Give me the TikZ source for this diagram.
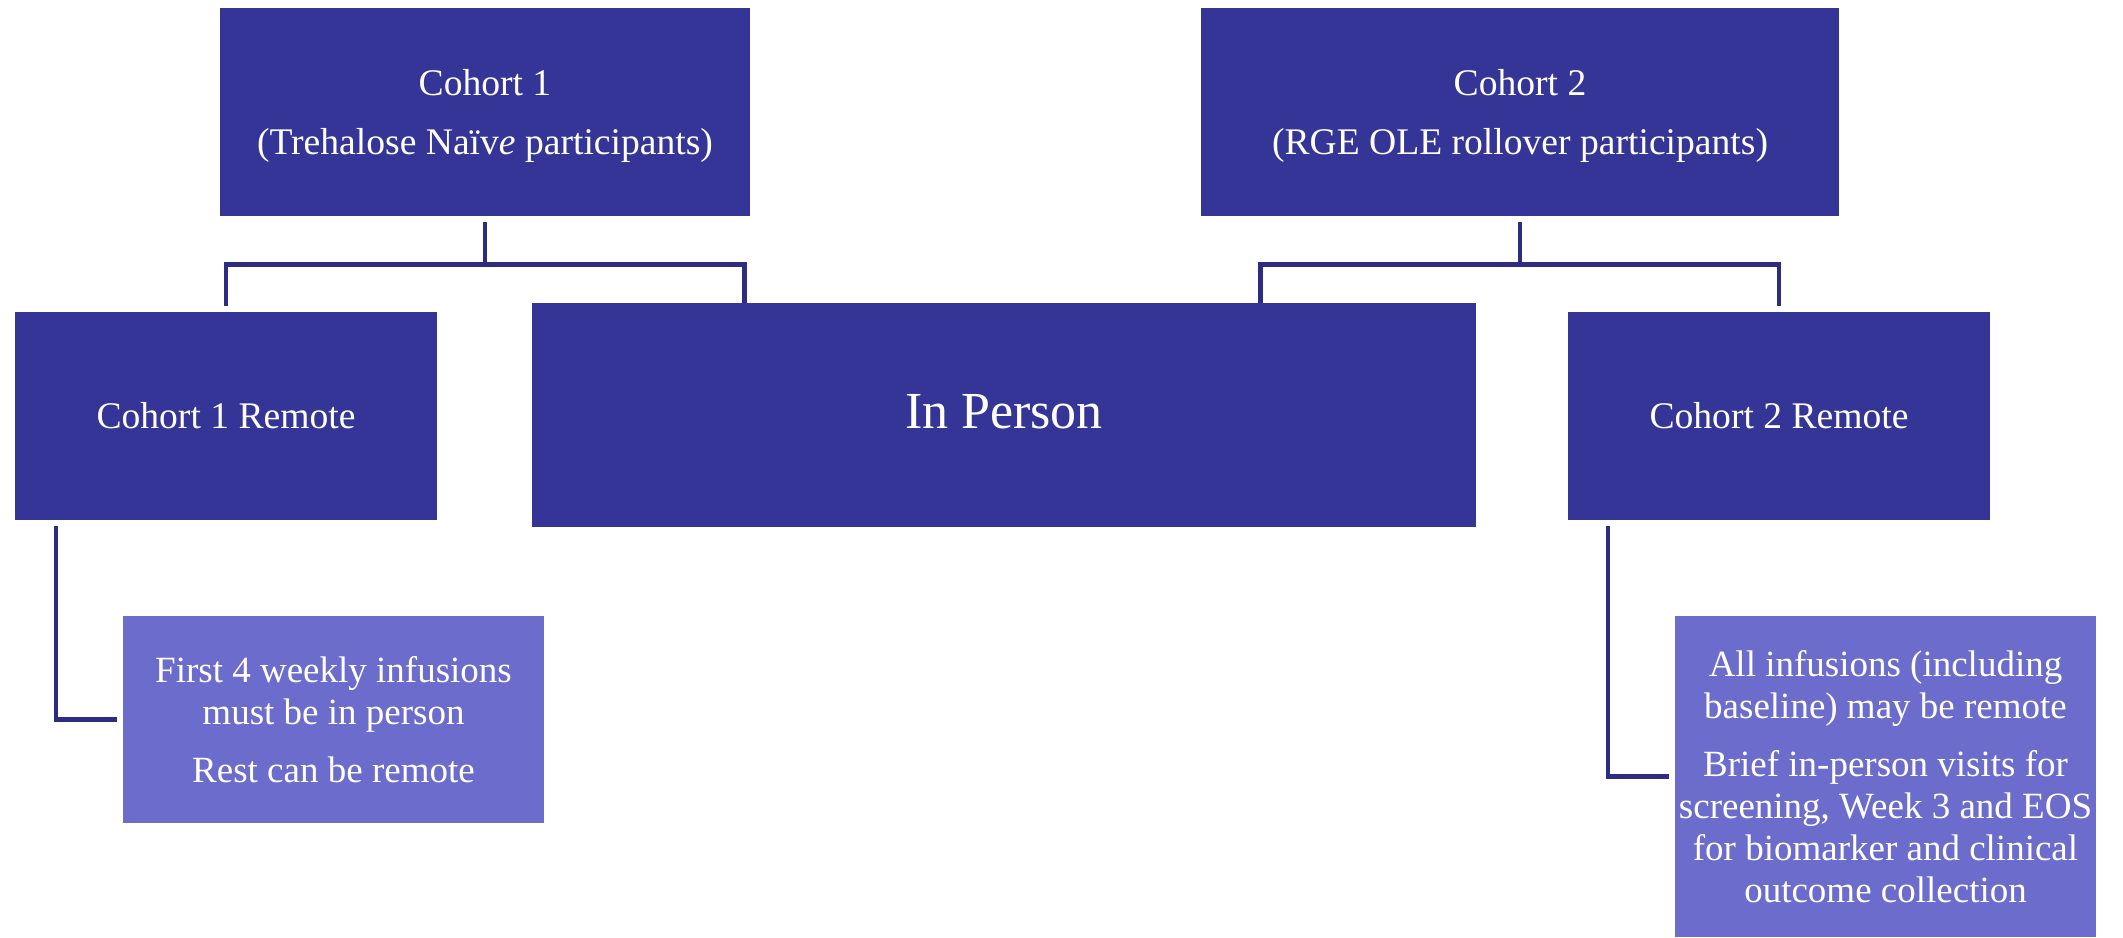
\documentclass[tikz,border=0pt]{standalone}
\usepackage{fontspec}
\setmainfont{Liberation Serif}
\definecolor{boxdark}{HTML}{353598}
\definecolor{boxlight}{HTML}{6C6CCC}
\definecolor{connc}{HTML}{2C2C82}
\newcommand\fntTop{\fontsize{18.8}{20.8}\selectfont}
\newcommand\fntBig{\fontsize{26}{30}\selectfont}
\newcommand\fntNote{\fontsize{18.5}{21}\selectfont}
\begin{document}
\begin{tikzpicture}[x=0.5pt,y=-0.5pt,
  dark/.style={fill=boxdark, text=white, inner sep=0pt, align=center},
  light/.style={fill=boxlight, text=white, inner sep=0pt, align=center},
  conn/.style={draw=connc, line width=2.2pt}]
\useasboundingbox (0,0) rectangle (2123,937);
% top boxes
\node[dark, minimum width=265pt, minimum height=104pt, font=\fntTop] (c1) at (485,112)
  {\rule{0pt}{17pt}Cohort 1\\[8.8pt](Trehalose Naïv\textit{e} participants)};
\node[dark, minimum width=319pt, minimum height=104pt, font=\fntTop] (c2) at (1520,112)
  {\rule{0pt}{17pt}Cohort 2\\[8.8pt](RGE OLE rollover participants)};
% middle row
\node[dark, minimum width=211pt, minimum height=104pt, font=\fntTop] (c1r) at (226,416) {Cohort 1 Remote};
\node[dark, minimum width=472pt, minimum height=112pt, font=\fntBig] (ip) at (1004,415) {\rule[-4pt]{0pt}{0pt}In Person};
\node[dark, minimum width=211pt, minimum height=104pt, font=\fntTop] (c2r) at (1779,416) {Cohort 2 Remote};
% notes
\node[light, minimum width=210.5pt, minimum height=103.5pt, font=\fntNote] (n1) at (333.5,719.5)
  {First 4 weekly infusions\\must be in person\\[8pt]Rest can be remote};
\node[light, minimum width=210.5pt, minimum height=160.5pt, font=\fntNote] (n2) at (1885.5,776.5)
  {All infusions (including\\baseline) may be remote\\[8pt]Brief in-person visits for\\screening, Week 3 and EOS\\for biomarker and clinical\\outcome collection};
% connectors
\coordinate (j1) at ([yshift=-24pt]c1.south);
\coordinate (j2) at ([yshift=-24pt]c2.south);
\draw[conn] ([yshift=-3pt]c1.south) -- (j1);
\draw[conn] ([yshift=3pt]c1r.north) |- (j1) -| ([xshift=106.5pt]ip.north west);
\draw[conn] ([yshift=-3pt]c2.south) -- (j2);
\draw[conn] ([xshift=-108pt]ip.north east) |- (j2) -| ([yshift=3pt]c2r.north);
\draw[conn] ([xshift=-85pt,yshift=-3pt]c1r.south) |- ([xshift=-3pt]n1.west);
\draw[conn] ([xshift=-85.5pt,yshift=-3pt]c2r.south) |- ([xshift=-3pt]n2.west);
\end{tikzpicture}
\end{document}
